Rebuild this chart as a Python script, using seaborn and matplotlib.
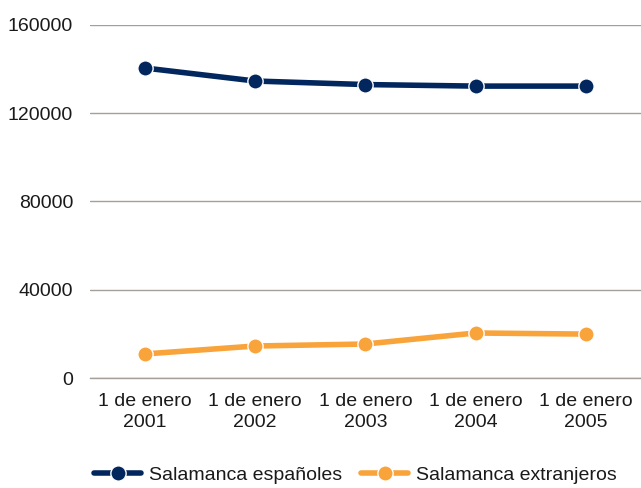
import pandas as pd
import seaborn as sns
import matplotlib.pyplot as plt
import numpy as np

fechas = ['1 de enero\n2001', '1 de enero\n2002', '1 de enero\n2003',
          '1 de enero\n2004', '1 de enero\n2005']
espanoles = [140500, 134600, 133000, 132300, 132300]
extranjeros = [10900, 14500, 15400, 20400, 19900]
series = ['Salamanca españoles', 'Salamanca extranjeros']
colores = ['#02275e', '#f9a33b']
yticks = [0, 40000, 80000, 120000, 160000]

df = pd.DataFrame({
    'fecha': fechas * 2,
    'valor': espanoles + extranjeros,
    'serie': [series[0]] * 5 + [series[1]] * 5,
})

sns.set_style('white')
plt.rcParams['font.family'] = ['Liberation Sans', 'DejaVu Sans']
plt.rcParams['text.color'] = '#1a1a1a'
plt.rcParams['xtick.color'] = '#1a1a1a'
plt.rcParams['ytick.color'] = '#1a1a1a'

fig = plt.figure(figsize=(6.41, 4.88), dpi=100)
ax = fig.add_axes([0.14, 0.2254, 0.86, 0.7234])

sns.lineplot(data=df, x='fecha', y='valor', hue='serie', palette=colores,
             marker='o', markersize=11, linewidth=4, markeredgecolor='white',
             markeredgewidth=1, ax=ax, legend=False, sort=False)

ax.set_ylim(0, 160000)
ax.set_xlim(-0.5, 4.43)
ax.set_yticks(yticks)
ax.set_yticklabels([str(v) for v in yticks])
ax.set_xlabel('')
ax.set_ylabel('')
ax.grid(axis='y', color='#a59f9b', linewidth=1)
ax.grid(axis='x', visible=False)
for s in ['top', 'right', 'left']:
    ax.spines[s].set_visible(False)
ax.spines['bottom'].set_color('#a59f9b')
ax.spines['bottom'].set_linewidth(1)

ax.set_xticks(np.arange(-0.5, 5, 1), minor=True)
ax.tick_params(axis='x', which='minor', length=8, color='#a59f9b', width=1)
ax.tick_params(axis='x', which='major', length=0, pad=11, labelsize=14)
ax.tick_params(axis='y', length=0, pad=12, labelsize=14)
for lab in ax.get_xticklabels():
    lab.set_horizontalalignment('center')
    lab.set_linespacing(1.3)

handles = [plt.Line2D([], [], color=c, linewidth=4, marker='o', markersize=11,
                      markeredgecolor='white', markeredgewidth=1) for c in colores]
fig.legend(handles, series, loc='lower left', bbox_to_anchor=(0.12, -0.028),
           ncol=2, frameon=False, fontsize=14, handlelength=2.4,
           columnspacing=1.0, handletextpad=0.4)

fig.savefig('out.png', dpi=100)
